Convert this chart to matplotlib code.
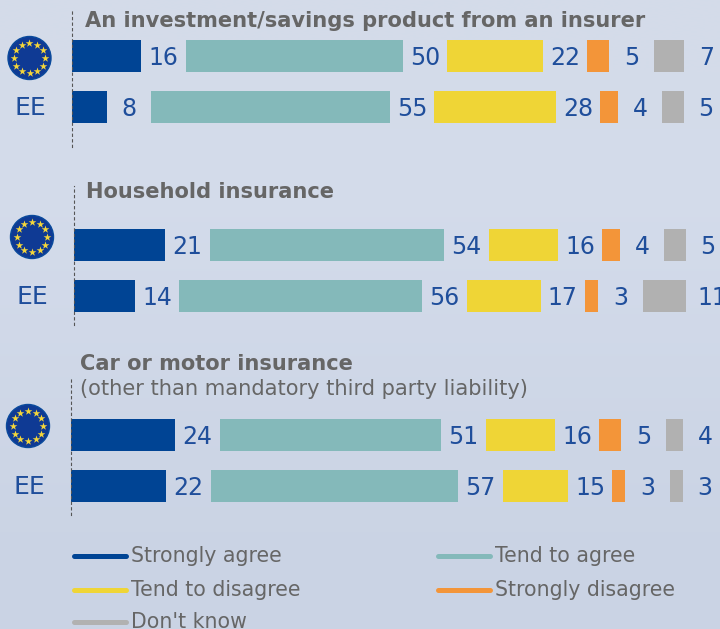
import numpy as np
import matplotlib
matplotlib.use("Agg")
import matplotlib.pyplot as plt
from matplotlib.patches import Circle

W, H = 720, 629

titles = ["An investment/savings product from an insurer", "Household insurance", "Car or motor insurance"]
subtitle = "(other than mandatory third party liability)"
series = ["Strongly agree", "Tend to agree", "Tend to disagree", "Strongly disagree", "Don't know"]
rows = ["EU", "EE"]
colors = ["#004494", "#84b9ba", "#efd536", "#f39539", "#b1b1b1"]

investment = [[16, 50, 22, 5, 7], [8, 55, 28, 4, 5]]
household = [[21, 54, 16, 4, 5], [14, 56, 17, 3, 11]]
motor = [[24, 51, 16, 5, 4], [22, 57, 15, 3, 3]]
groups = [investment, household, motor]

GAP = 10.25       # blank room between segments, in percentage units
TEXT_BLUE = "#1f4e9b"
TEXT_GREY = "#666666"

# layout, in reference pixels
axes_px = [(72, 10, 147, 56), (74, 186, 325, 245), (71, 378, 515, 435)]  # left, top, bottom, first row centre
PITCH = 51
BAR_PX = 32
flag_px = [(29.5, 58), (32, 237), (28, 426)]
ee_px = [(30, 108), (32, 297), (29, 487)]
title_px = [(85, 21), (86, 192), (80, 364)]

fig = plt.figure(figsize=(W / 100, H / 100), dpi=100)

# background and overlay share pixel coordinates
bg = fig.add_axes([0, 0, 1, 1], zorder=0)
grad = np.array([[212, 219, 233], [212, 220, 235], [209, 217, 233], [205, 214, 230], [202, 211, 228]]) / 255
bg.imshow(grad[:, None, :], extent=(0, W, H, 0), aspect="auto", interpolation="bicubic")
bg.set_xlim(0, W)
bg.set_ylim(H, 0)
bg.axis("off")

for g, data in enumerate(groups):
    left, top, bottom, centre = axes_px[g]
    ax = fig.add_axes([left / W, 1 - bottom / H, 612 / W, (bottom - top) / H], zorder=2)
    ax.patch.set_alpha(0)
    ax.set_xlim(0, 100 + 4 * GAP)
    ax.set_ylim((bottom - centre) / PITCH, (top - centre) / PITCH)
    for s in ["top", "right", "bottom"]:
        ax.spines[s].set_visible(False)
    ax.spines["left"].set_linestyle((0, (2, 3)))
    ax.spines["left"].set_linewidth(0.8)
    ax.spines["left"].set_color("#555555")
    ax.set_xticks([])
    ax.set_yticks([])

    for r, vals in enumerate(data):
        x = 0
        for c, v in enumerate(vals):
            ax.barh(r, v, left=x, height=BAR_PX / PITCH, color=colors[c], linewidth=0)
            ax.text(x + v + GAP / 2, r + 0.03, str(v), ha="center", va="center",
                    fontsize=17, color=TEXT_BLUE, clip_on=False)
            x += v + GAP

    # row labels
    fx, fy = flag_px[g]
    bg.add_patch(Circle((fx, fy), 21.5, facecolor="#0f3a94", edgecolor="#0a4a9c", linewidth=1))
    ang = np.deg2rad(np.arange(0, 360, 30))
    bg.scatter(fx + 15.3 * np.cos(ang), fy + 15.3 * np.sin(ang), marker="*", s=34,
               color="#f5d63a", linewidths=0, zorder=3)
    ex, ey = ee_px[g]
    bg.text(ex, ey, rows[1], ha="center", va="center", fontsize=18, color=TEXT_BLUE)

    tx, ty = title_px[g]
    bg.text(tx, ty, titles[g], ha="left", va="center", fontsize=15.1, fontweight="bold", color=TEXT_GREY)

bg.text(80, 389, subtitle, ha="left", va="center", fontsize=15.1, color=TEXT_GREY)

# legend
legend_px = [(72, 556), (436, 556), (72, 589.5), (436, 589.5), (72, 622)]
for (lx, ly), name, col in zip(legend_px, series, colors):
    bg.plot([lx + 2, lx + 54], [ly, ly], color=col, lw=3.6, solid_capstyle="round")
    bg.text(lx + 59, ly, name, ha="left", va="center", fontsize=14.8, color=TEXT_GREY)

fig.savefig("out.png", dpi=100)
